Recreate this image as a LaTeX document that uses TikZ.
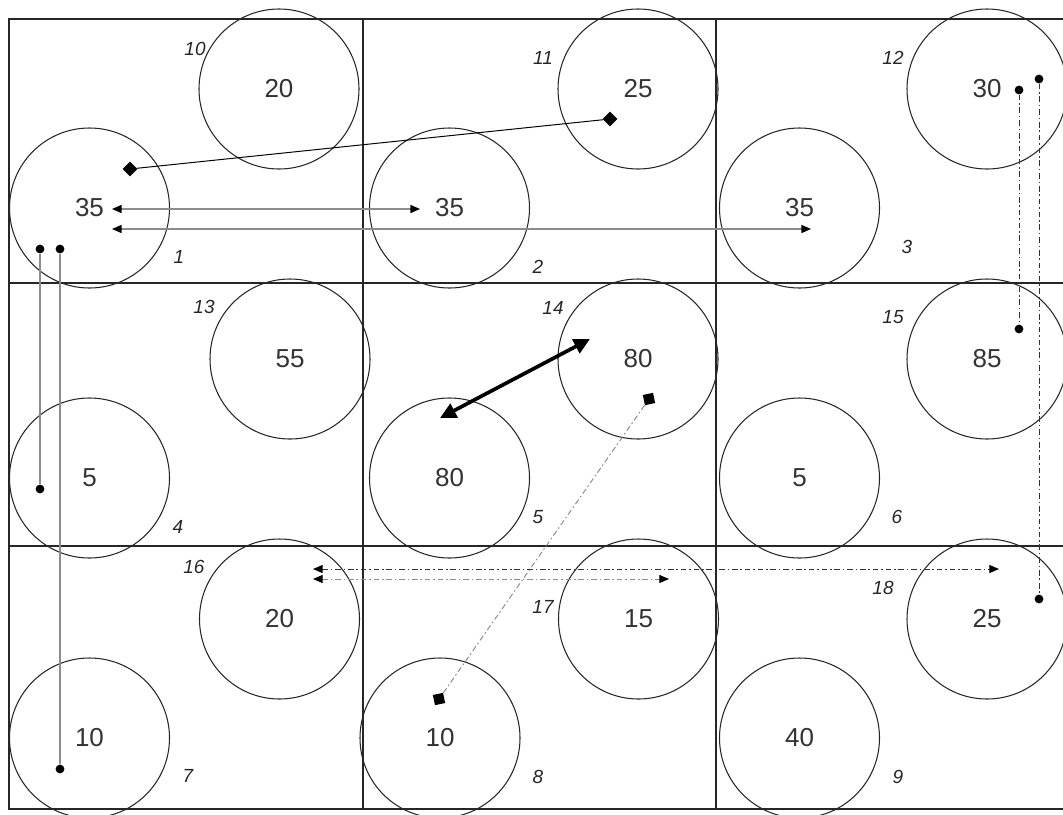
\documentclass[tikz,border=0pt]{standalone}
\usepackage{fontspec}
\setmainfont{Liberation Sans}
\usepackage{tikz}
\usetikzlibrary{
    positioning,      % For placing nodes relative to each other
    shapes.geometric, % For the diamond ends
    arrows.meta       % For the arrow tips
}
\tikzset{
    % A circle for one site
    site_node/.style={
        circle, draw=black!85, line width=0.75pt, minimum size=40mm,
        inner sep=0pt, font=\fontsize{18.5}{20}\selectfont, text=black!80
    },
    % The small italic number of a site
    site_label/.style={
        inner sep=0pt, font=\fontsize{13.5}{15}\selectfont\itshape, text=black!85
    },
    % End marks of the connectors
    dot_end/.style={circle, fill=black, minimum size=2.2mm, inner sep=0pt},
    diamond_end/.style={diamond, fill=black, minimum size=3.8mm, inner sep=0pt},
    square_end/.style={rectangle, fill=black, minimum size=2.6mm, inner sep=0pt, rotate=12},
    % Lines of the grid
    grid_line/.style={draw=black!85, line width=0.9pt},
    % Connector styles
    plain_link/.style={draw=black, line width=0.7pt},
    gray_link/.style={draw=black!45, line width=0.9pt},
    gray_arrow/.style={gray_link, {Triangle[black, length=2.4mm, width=2mm]}-{Triangle[black, length=2.4mm, width=2mm]}},
    strong_arrow/.style={draw=black, line width=2.6pt, {Triangle[length=4mm, width=3.8mm]}-{Triangle[length=4mm, width=3.8mm]}},
    dashdot_link/.style={draw=black!80, line width=0.7pt, dash pattern=on 1.4mm off 0.7mm on 0.4mm off 0.7mm},
    light_dashdot_link/.style={draw=black!45, line width=0.7pt, dash pattern=on 1.4mm off 0.7mm on 0.4mm off 0.7mm},
    dashdot_arrow/.style={dashdot_link, {Triangle[black, length=2.4mm, width=2mm]}-{Triangle[black, length=2.4mm, width=2mm]}},
    light_dashdot_arrow/.style={light_dashdot_link, {Triangle[black, length=2.4mm, width=2mm]}-{Triangle[black, length=2.4mm, width=2mm]}}
}

\begin{document}
\begin{tikzpicture}[x=0.25mm, y=-0.25mm]

\useasboundingbox (0,0) rectangle (1063,814);

% --- GRID ---
\draw[grid_line] (9,19) rectangle (1070,809);
\draw[grid_line] (363,19) -- (363,809);
\draw[grid_line] (716,19) -- (716,809);
\draw[grid_line] (9,283) -- (1070,283);
\draw[grid_line] (9,546) -- (1070,546);

% --- SITES ---
\node[site_node] (site1)  at (89.5,208) {35};
\node[site_node] (site10) at (279,89)   {20};
\node[site_node] (site2)  at (449.5,208) {35};
\node[site_node] (site11) at (638,89)   {25};
\node[site_node] (site3)  at (799.5,208) {35};
\node[site_node] (site12) at (987,89)   {30};

\node[site_node] (site4)  at (89.5,478) {5};
\node[site_node] (site13) at (290,359)  {55};
\node[site_node] (site5)  at (449.5,478) {80};
\node[site_node] (site14) at (638,359)  {80};
\node[site_node] (site6)  at (799.5,478) {5};
\node[site_node] (site15) at (987,359)  {85};

\node[site_node] (site7)  at (89.5,738) {10};
\node[site_node] (site16) at (279.5,619) {20};
\node[site_node] (site8)  at (440,738)  {10};
\node[site_node] (site17) at (638.5,619) {15};
\node[site_node] (site9)  at (799.5,738) {40};
\node[site_node] (site18) at (987,619)  {25};

% --- SITE NUMBERS ---
\node[site_label] (lab1)  at (179,257) {1};
\node[site_label] (lab2)  at (538,267) {2};
\node[site_label] (lab3)  at (907,247) {3};
\node[site_label] (lab4)  at (178,527) {4};
\node[site_label] (lab5)  at (538,517) {5};
\node[site_label] (lab6)  at (897,517) {6};
\node[site_label] (lab7)  at (188,776) {7};
\node[site_label] (lab8)  at (538,777) {8};
\node[site_label] (lab9)  at (898,777) {9};
\node[site_label] (lab10) at (195,49)  {10};
\node[site_label] (lab11) at (543,58)  {11};
\node[site_label] (lab12) at (893,58)  {12};
\node[site_label] (lab13) at (204,307) {13};
\node[site_label] (lab14) at (553,308) {14};
\node[site_label] (lab15) at (893,317) {15};
\node[site_label] (lab16) at (194,567) {16};
\node[site_label] (lab17) at (543,607) {17};
\node[site_label] (lab18) at (883,588) {18};

% --- END MARKS ---
\node[diamond_end] (diam_a) at (130,169) {};
\node[diamond_end] (diam_b) at (610,119) {};
\node[dot_end] (dot_a) at (40,249) {};
\node[dot_end] (dot_b) at (40,489) {};
\node[dot_end] (dot_c) at (60,249) {};
\node[dot_end] (dot_d) at (60,769) {};
\node[dot_end] (dot_e) at (1019,90) {};
\node[dot_end] (dot_f) at (1019,329) {};
\node[dot_end] (dot_g) at (1039,79) {};
\node[dot_end] (dot_h) at (1039,599) {};
\node[square_end] (sq_a) at (649,399) {};
\node[square_end] (sq_b) at (439,699) {};

\coordinate (tip_a) at (112,209);
\coordinate (tip_b) at (420,209);
\coordinate (tip_c) at (112,229);
\coordinate (tip_d) at (811,229);
\coordinate (tip_e) at (440,418);
\coordinate (tip_f) at (590,339);
\coordinate (tip_g) at (313,569);
\coordinate (tip_h) at (999,569);
\coordinate (tip_i) at (313,579);
\coordinate (tip_j) at (669,579);

% --- CONNECTORS ---
\draw[plain_link] (diam_a) -- (diam_b);
\draw[gray_arrow] (tip_a) -- (tip_b);
\draw[gray_arrow] (tip_c) -- (tip_d);
\draw[gray_link] (dot_a) -- (dot_b);
\draw[gray_link] (dot_c) -- (dot_d);
\draw[dashdot_link] (dot_e) -- (dot_f);
\draw[dashdot_link] (dot_g) -- (dot_h);
\draw[strong_arrow] (tip_e) -- (tip_f);
\draw[light_dashdot_link] (sq_a) -- (sq_b);
\draw[dashdot_arrow] (tip_g) -- (tip_h);
\draw[light_dashdot_arrow] (tip_i) -- (tip_j);

\end{tikzpicture}
\end{document}
